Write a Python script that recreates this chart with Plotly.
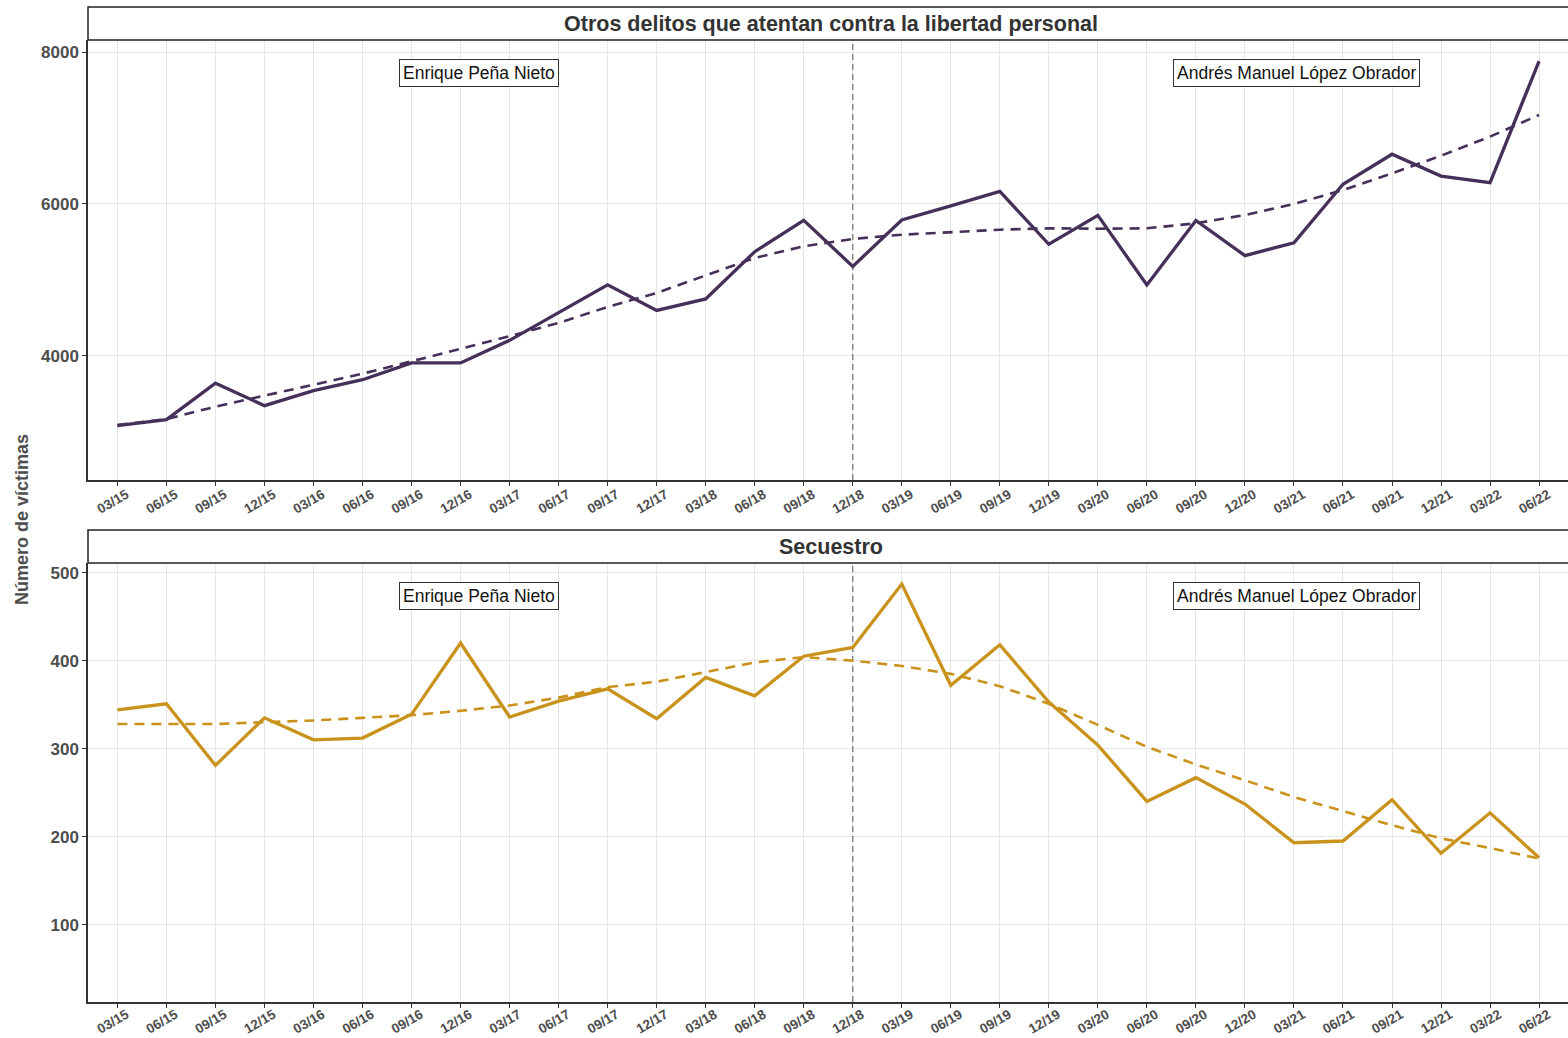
import plotly.graph_objects as go

# ---------------- data ----------------
periods = ["03/15", "06/15", "09/15", "12/15", "03/16", "06/16", "09/16", "12/16",
           "03/17", "06/17", "09/17", "12/17", "03/18", "06/18", "09/18", "12/18",
           "03/19", "06/19", "09/19", "12/19", "03/20", "06/20", "09/20", "12/20",
           "03/21", "06/21", "09/21", "12/21", "03/22", "06/22"]

otros_values = [3083, 3162, 3641, 3346, 3543, 3688, 3908, 3908,
                4206, 4575, 4937, 4600, 4750, 5372, 5784, 5179,
                5790, 5975, 6166, 5470, 5850, 4934, 5784, 5320,
                5490, 6260, 6655, 6368, 6280, 7881]
otros_trend = [3090, 3170, 3333, 3478, 3622, 3767, 3930, 4093,
               4260, 4435, 4645, 4830, 5060, 5290, 5443, 5540,
               5596, 5632, 5662, 5680, 5675, 5680, 5746, 5855,
               6000, 6184, 6403, 6636, 6886, 7172]

secuestro_values = [344, 351, 281, 335, 310, 312, 339, 420,
                    336, 354, 368, 334, 381, 360, 405, 415,
                    487, 372, 418, 353, 304, 240, 267, 237,
                    193, 195, 242, 181, 227, 176]
secuestro_trend = [328, 328, 328, 330, 332, 335, 338, 343,
                   349, 358, 370, 376, 387, 398, 404, 400,
                   394, 385, 371, 351, 327, 302, 282, 264,
                   245, 229, 213, 198, 187, 175]

panel_titles = ["Otros delitos que atentan contra la libertad personal", "Secuestro"]
president_labels = ["Enrique Peña Nieto", "Andrés Manuel López Obrador"]
label_positions = [7.38, 24.05]
change_period = "12/18"
y_title = "Número de víctimas"

purple = "#46305a"
gold = "#c9921b"

# ---------------- geometry (pixels) ----------------
W, H = 1568, 1038
def px_x(p):
    return p / W
def px_y(p):
    return (H - p) / H

x_left = 88
top_plot = (40, 480)
bot_plot = (563, 1002)
top_strip = (7, 40)
bot_strip = (530, 563)

fig = go.Figure()

# vertical separator at the change of administration (drawn first, under the data)
for xa, ya, rng in [("x", "y", [2368, 8158]), ("x2", "y2", [12, 511])]:
    fig.add_trace(go.Scatter(x=[change_period, change_period], y=rng, mode="lines",
                             xaxis=xa, yaxis=ya, hoverinfo="skip",
                             line=dict(color="#808080", width=1.4, dash="6px,4px"),
                             showlegend=False))

series = [
    (otros_values, otros_trend, purple, "x", "y"),
    (secuestro_values, secuestro_trend, gold, "x2", "y2"),
]
for vals, trend, col, xa, ya in series:
    fig.add_trace(go.Scatter(x=periods, y=vals, mode="lines", xaxis=xa, yaxis=ya,
                             line=dict(color=col, width=3.3), showlegend=False))
    fig.add_trace(go.Scatter(x=periods, y=trend, mode="lines", xaxis=xa, yaxis=ya,
                             line=dict(color=col, width=2.6, dash="10px,7px"), showlegend=False))

font_fam = "Liberation Sans, Arial, sans-serif"

xcommon = dict(
    type="category", categoryorder="array", categoryarray=periods,
    range=[-0.6, 29.59], tickangle=-30, automargin=False,
    tickfont=dict(family=font_fam, size=13.5, color="#4d4d4d", weight="bold"),
    ticklabelshift=9,
    showgrid=True, gridcolor="#e6e6e6", gridwidth=1,
    showline=True, linecolor="#333333", linewidth=1.5,
    ticks="outside", ticklen=4, tickcolor="#333333",
    zeroline=False, domain=[px_x(x_left), 1.0],
)
ycommon = dict(
    tickfont=dict(family=font_fam, size=17, color="#4d4d4d", weight="bold"),
    showgrid=True, gridcolor="#e6e6e6", gridwidth=1, automargin=False,
    showline=True, linecolor="#333333", linewidth=1.5,
    ticks="outside", ticklen=4, tickcolor="#333333",
    zeroline=False,
)

fig.update_layout(
    width=W, height=H,
    margin=dict(l=0, r=0, t=0, b=0, autoexpand=False),
    paper_bgcolor="white", plot_bgcolor="white",
    xaxis=dict(**xcommon, anchor="y", ticklabelstandoff=-4),
    yaxis=dict(**ycommon, anchor="x", range=[2368, 8158], tickvals=[4000, 6000, 8000],
               domain=[px_y(top_plot[1]), px_y(top_plot[0])]),
    xaxis2=dict(**xcommon, anchor="y2", ticklabelstandoff=-6),
    yaxis2=dict(**ycommon, anchor="x2", range=[12, 511], tickvals=[100, 200, 300, 400, 500],
                domain=[px_y(bot_plot[1]), px_y(bot_plot[0])]),
)

shapes = []
annotations = []
for strip, title in zip([top_strip, bot_strip], panel_titles):
    shapes.append(dict(type="rect", xref="paper", yref="paper",
                       x0=px_x(x_left), x1=1.003, y0=px_y(strip[1]), y1=px_y(strip[0]),
                       line=dict(color="#222222", width=1.5), fillcolor="white", layer="above"))
    annotations.append(dict(text=title, xref="paper", yref="paper",
                            x=px_x(831), y=px_y((strip[0] + strip[1]) / 2),
                            xanchor="center", yanchor="middle", showarrow=False,
                            font=dict(family=font_fam, size=21.5, color="#333333", weight="bold")))

for xa, ya in [("x", "y"), ("x2", "y2")]:
    for lab, pos in zip(president_labels, label_positions):
        annotations.append(dict(text=lab, xref=xa, yref=ya + " domain",
                                x=pos, y=0.925, xanchor="center", yanchor="middle",
                                showarrow=False, bgcolor="white", bordercolor="#333333",
                                borderwidth=1, borderpad=3,
                                font=dict(family=font_fam, size=17.5, color="#111111")))

annotations.append(dict(text=y_title, xref="paper", yref="paper",
                        x=px_x(22), y=px_y(520), textangle=-90,
                        xanchor="center", yanchor="middle", showarrow=False,
                        font=dict(family=font_fam, size=18,
                                  color="#4d4d4d", weight="bold")))

fig.update_layout(shapes=shapes, annotations=annotations)
fig.write_html("out.html", config={"displayModeBar": False},
               post_script="document.body.style.margin='0px';document.body.style.overflow='hidden';")
